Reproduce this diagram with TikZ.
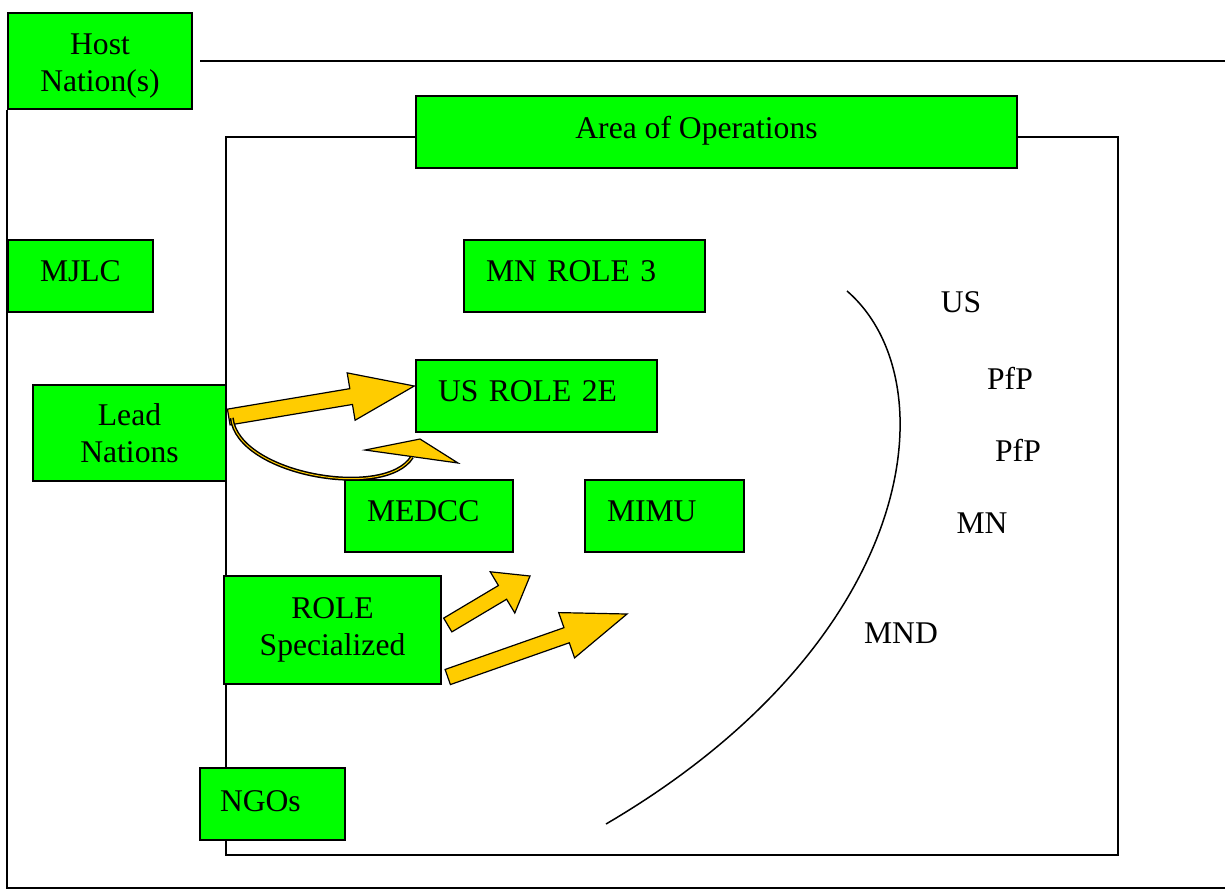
\documentclass[tikz,border=0pt]{standalone}
\usepackage{fontspec}
\setmainfont{Liberation Serif}
\usetikzlibrary{calc}
\definecolor{boxgreen}{HTML}{00FF00}
\definecolor{arrowyellow}{HTML}{FFCC00}

% block arrow: tail, tip, shaft half width, head half width, head length
\newcommand{\blockarrow}[5]{%
  \path ($(#2)!#5!(#1)$) coordinate (bh);
  \draw[blockarrowstyle]
    ($(#1)!#3!90:(#2)$) -- ($(bh)!#3!-90:(#1)$) -- ($(bh)!#4!-90:(#1)$) --
    (#2) -- ($(bh)!#4!90:(#1)$) -- ($(bh)!#3!90:(#1)$) -- ($(#1)!#3!-90:(#2)$) -- cycle;
}

\begin{document}
\begin{tikzpicture}[x=0.5pt,y=-0.5pt,
  every node/.style={font=\fontsize{15.8pt}{18.5pt}\selectfont},
  box/.style={draw=black, line width=0.75pt, fill=boxgreen, rectangle,
    inner sep=0pt, align=center},
  boxl/.style={box, align=left, text height=10.5pt, text depth=5pt},
  frame/.style={line width=0.8pt},
  blockarrowstyle/.style={draw=black, line width=0.6pt, fill=arrowyellow, line join=miter},
  tag/.style={inner sep=0pt}]

\useasboundingbox (0,0) rectangle (1225,890);

% inner frame: area of operations
\draw[frame] (226,137) rectangle (1118,855);

% boxes
\node[box, minimum width=92pt, minimum height=48pt] (host) at (100,61) {\rule{0pt}{15.5pt}Host\\Nation(s)};
\node[box, minimum width=300.5pt, minimum height=36pt, text height=10.5pt, text depth=4pt] (area) at (716.5,132) {Area of Operations\hspace{20pt}};
\node[boxl, text width=40.5pt, inner xsep=16pt, minimum height=36pt] (mjlc) at (80.5,276) {MJLC};
\node[boxl, text width=98.5pt, inner xsep=11pt, minimum height=36pt] (mnrole) at (584.5,276) {MN ROLE 3};
\node[boxl, text width=98.5pt, inner xsep=11pt, minimum height=36pt] (usrole) at (536.5,396) {US ROLE 2E};
\node[box, minimum width=96.5pt, minimum height=48pt] (lead) at (129.5,433) {Lead\\Nations};
\node[boxl, text width=62pt, inner xsep=11pt, minimum height=36pt] (medcc) at (429,516) {MEDCC};
\node[boxl, text width=57.5pt, inner xsep=11pt, minimum height=36pt] (mimu) at (664.5,516) {MIMU};
\node[box, minimum width=108.5pt, minimum height=54pt] (role) at (332.5,630) {ROLE\\Specialized};
\node[boxl, text width=52.5pt, inner xsep=10pt, minimum height=36pt, text depth=3pt] (ngos) at (272.5,804) {NGOs};

% outer frame
\coordinate (topstart) at (200,61);
\coordinate (topend) at (1225,61);
\coordinate (botend) at (1225,888);
\draw[frame] (topstart) -- (topend);
\draw[frame] (host.south west) -- (host.south west |- botend) -- (botend);

% arrow from lead nations to US role 2E
\coordinate (a1t) at ($(lead.east)+(2,-16)$);
\coordinate (a1p) at ($(usrole.west)+(-1,-10)$);
\blockarrow{a1t}{a1p}{4pt}{12pt}{32pt}

% curved arrow from lead nations
\coordinate (c0) at ($(lead.east)+(5,-15)$);
\coordinate (c1) at (412,457);
\draw[line width=0.75pt, double=arrowyellow, double distance=0.5pt]
  (c0) .. controls (238,475) and (385,500) .. (c1);
\coordinate (ch1) at (365,450);
\coordinate (ch2) at (420,439);
\coordinate (ch3) at (458,463);
\draw[blockarrowstyle] (ch1) -- (ch2) -- (ch3) -- cycle;

% arrows from role specialized
\coordinate (a2t) at ($(role.east)+(6,-5)$);
\coordinate (a2p) at (530,576);
\blockarrow{a2t}{a2p}{4pt}{12pt}{16pt}
\coordinate (a3t) at ($(role.east)+(6,47)$);
\coordinate (a3p) at (627,614);
\blockarrow{a3t}{a3p}{4pt}{12pt}{32pt}

% boundary arc
\draw[line width=0.75pt] (847,291) .. controls (950,380) and (920,640) .. (606,824);

% labels on the right
\node[tag] (us) at (961,302) {US};
\node[tag] (pfp1) at (1010,378) {PfP};
\node[tag] (pfp2) at (1018,450) {PfP};
\node[tag] (mn) at (982,523) {MN};
\node[tag] (mnd) at (901,633) {MND};
\end{tikzpicture}
\end{document}
